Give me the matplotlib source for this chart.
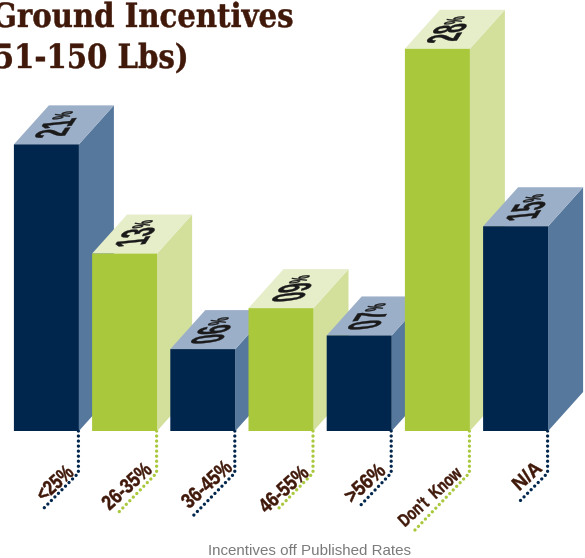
import matplotlib
matplotlib.use("Agg")
import numpy as np
import matplotlib.pyplot as plt
from matplotlib.patches import Polygon
from matplotlib.path import Path
from matplotlib.patheffects import AbstractPathEffect
from matplotlib.transforms import Affine2D

categories = ["<25%", "26-35%", "36-45%", "46-55%", ">56%", "Don't  Know", "N/A"]
values = [21, 13, 6, 9, 7, 28, 15]
value_labels = ["21%", "13%", "06%", "09%", "07%", "28%", "15%"]
title_lines = ["Ground Incentives", "(51-150 Lbs)"]
xlabel = "Incentives off Published Rates"

W, H = 585, 558
BASE_PX, UNIT_PX = 431.0, 13.65
X0_PX, STEP_PX, BAR_PX = 46.4, 78.2, 65.0
DX_PX, DY_PX = 35.0, 39.0

NAVY = ("#00264d", "#56789c", "#9cafc8")
GREEN = ("#a9c83c", "#d3e09c", "#e5edc9")
BROWN = "#40190a"


def stroked_gc(renderer, gc, rgbFace, stroke):
    g = renderer.new_gc()
    g.copy_properties(gc)
    if stroke:
        g.set_linewidth(stroke)
        g.set_foreground(rgbFace)
    return g


class Squeeze(AbstractPathEffect):
    """Narrow a text about its left origin."""
    def __init__(self, sx, stroke=0):
        super().__init__()
        self.sx, self.stroke = sx, stroke

    def draw_path(self, renderer, gc, tpath, affine, rgbFace=None):
        g = stroked_gc(renderer, gc, rgbFace, self.stroke)
        renderer.draw_path(g, tpath, Affine2D().scale(self.sx, 1) + affine, rgbFace)
        g.restore()


class FitText(AbstractPathEffect):
    """Lay a text out along a baseline and an up vector, about its own centre."""
    def __init__(self, base, up, kx, ky, tail_from=None, tail=(1, 1, 0), stroke=0):
        super().__init__()
        self.base = np.array(base, float) / np.hypot(*base)
        self.up = np.array(up, float) / np.hypot(*up)
        self.kx, self.ky = kx, ky
        self.tail_from, self.tail = tail_from, tail
        self.stroke = stroke

    def draw_path(self, renderer, gc, tpath, affine, rgbFace=None):
        v = tpath.vertices.astype(float).copy()
        ext = tpath.get_extents()
        centre = affine.transform([[ext.x0 + ext.width / 2, ext.y0 + ext.height / 2]])[0]
        if self.tail_from is not None:
            m = v[:, 0] > self.tail_from
            f, g, y0 = self.tail
            v[m, 0] = self.tail_from + (v[m, 0] - self.tail_from) * f
            v[m, 1] = y0 + v[m, 1] * g
        x = v[:, 0] - (v[:, 0].min() + v[:, 0].max()) / 2
        y = v[:, 1] - (v[:, 1].min() + v[:, 1].max()) / 2
        out = centre + np.outer(x * self.kx, self.base) + np.outer(y * self.ky, self.up)
        gg = stroked_gc(renderer, gc, rgbFace, self.stroke)
        renderer.draw_path(gg, Path(out, tpath.codes), Affine2D(), rgbFace)
        gg.restore()


fig = plt.figure(figsize=(W / 100, H / 100), dpi=100)
ax = fig.add_axes([0, 0, 1, 1])
ax.set_xlim(-X0_PX / STEP_PX, (W - X0_PX) / STEP_PX)
ax.set_ylim(-(H - BASE_PX) / UNIT_PX, BASE_PX / UNIT_PX)
ax.axis("off")

dx = DX_PX / STEP_PX
dy = DY_PX / UNIT_PX
hw = BAR_PX / STEP_PX / 2


def px(xp, yp):
    return (xp - X0_PX) / STEP_PX, (BASE_PX - yp) / UNIT_PX


# Per-bar label styling, in pixels
leader_ends = [(44, 508), (116, 515), (191, 518), (276, 511), (358, 508), (414, 531), (517, 504)]
cat_pos = [(55, 484), (127, 487), (207, 485), (284, 490), (365, 484), (430, 498), (527, 477)]
cat_len = [42, 59, 60, 59, 47, 73, 32]
cat_cap = [15, 15, 15, 15, 15, 13, 14]
val_pos = [(59, 126), (139, 235), (215, 332), (296, 290), (372, 318), (451, 31), (530, 209)]
CAT_WIDTH_EM = [2.585, 3.45, 3.45, 3.45, 2.585, 5.39, 1.7]

for i, (v, cat, lab) in enumerate(zip(values, categories, value_labels)):
    front, side, top = NAVY if i % 2 == 0 else GREEN
    z = 2 + i
    l, r = i - hw, i + hw
    ax.add_patch(Polygon([(r, 0), (r + dx, dy), (r + dx, v + dy), (r, v)],
                         fc=side, ec="none", zorder=z))
    ax.add_patch(Polygon([(l, v), (r, v), (r + dx, v + dy), (l + dx, v + dy)],
                         fc=top, ec="none", zorder=z))
    bars = ax.bar(i, v, width=2 * hw, color=front, linewidth=0, zorder=z + 0.1)
    bars[0].set_snap(False)

    xv, yv = px(*val_pos[i])
    ax.text(xv, yv, lab, rotation=56, rotation_mode="anchor", ha="center", va="center",
            family="Liberation Sans", weight="bold", fontsize=14, color="#1a1a1a", zorder=z + 0.2,
            path_effects=[FitText((0.55, 0.83), (-0.97, -0.1), 0.2, 0.46,
                                  tail_from=113, tail=(0.5, 0.55, 18), stroke=0.25)])

    xa = r - 0.5 / STEP_PX
    _, y_knee = px(0, 473)
    xe, ye = px(*leader_ends[i])
    ax.plot([xa, xa, xe], [0, y_knee, ye], ls=(0, (0.01, 1.5)), lw=2.4, color=front,
            dash_capstyle="round", zorder=1)

    xc, yc = px(*cat_pos[i])
    kx = cat_len[i] / (CAT_WIDTH_EM[i] * 100)
    ky = cat_cap[i] / 72
    ax.text(xc, yc, cat, rotation=43, rotation_mode="anchor", ha="center", va="center",
            family="Liberation Sans", weight="bold", fontsize=12, color=BROWN, zorder=20,
            path_effects=[FitText((0.74, 0.67), (-0.67, 0.74), kx, ky, stroke=0.3)])

for line, (xp, yp) in zip(title_lines, [(-8, 27), (-20, 68)]):
    xt, yt = px(xp, yp)
    ax.text(xt, yt, line, ha="left", va="baseline", family="DejaVu Serif", weight="bold",
            fontsize=24, color=BROWN, clip_on=False, path_effects=[Squeeze(0.875, stroke=0.3)])

xt, yt = px(309, 551)
ax.text(xt, yt, xlabel, ha="center", va="center", family="Liberation Sans",
        fontsize=10.9, color="#7a7a7a")

fig.savefig("out.png", dpi=100, facecolor="white")
